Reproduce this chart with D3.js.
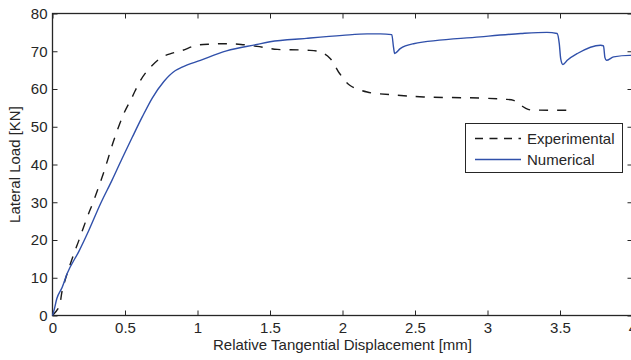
<!DOCTYPE html>
<html>
<head>
<meta charset="utf-8">
<script src="https://cdn.jsdelivr.net/npm/d3@7"></script>
<style>
  html, body { margin: 0; padding: 0; background: #fff; overflow: hidden; }
  svg text { font-family: "Liberation Sans", Arial, Helvetica, sans-serif; fill: #262626; }
</style>
</head>
<body>
<svg id="chart" width="631" height="360"></svg>
<script>
// Experimental load–displacement curve (mm, kN)
const expX = [0, 0.044, 0.067, 0.10, 0.148, 0.182, 0.24, 0.285, 0.354, 0.423, 0.492, 0.55, 0.607, 0.676, 0.757, 0.826, 0.894, 0.996, 1.1, 1.2, 1.3, 1.41, 1.55, 1.75, 1.85, 1.915, 1.98, 2.05, 2.17, 2.33, 2.56, 2.95, 3.11, 3.18, 3.23, 3.28, 3.35, 3.59];
const expY = [0, 2.2, 6.6, 11.0, 16.4, 19.9, 26.1, 30.5, 38.0, 46.4, 53.5, 57.9, 62.3, 65.8, 68.5, 69.5, 70.2, 71.6, 71.9, 72.0, 71.8, 71.3, 70.5, 70.3, 69.8, 68.1, 64.1, 61.0, 59.2, 58.5, 57.9, 57.6, 57.3, 57.0, 55.7, 54.6, 54.4, 54.4];

// Numerical (FE) load–displacement curve (mm, kN)
const numX = [0, 0.01, 0.03, 0.067, 0.101, 0.182, 0.251, 0.331, 0.41, 0.48, 0.55, 0.619, 0.688, 0.768, 0.848, 0.894, 1.02, 1.2, 1.41, 1.5, 1.75, 2.0, 2.17, 2.26, 2.34, 2.352, 2.36, 2.398, 2.49, 2.95, 3.23, 3.41, 3.48, 3.495, 3.505, 3.52, 3.55, 3.62, 3.78, 3.80, 3.81, 3.82, 3.87, 3.98, 4.0];
const numY = [0, 1.3, 4.5, 7.5, 11.1, 17.0, 22.6, 29.6, 35.8, 41.6, 47.2, 52.6, 57.6, 62.0, 64.9, 65.8, 67.6, 70.1, 71.8, 72.5, 73.4, 74.2, 74.6, 74.6, 74.4, 71.0, 69.4, 70.7, 72.0, 73.8, 74.7, 75.0, 74.7, 72.0, 68.0, 66.5, 67.6, 69.4, 71.6, 71.4, 68.3, 67.6, 68.5, 68.9, 68.9];

const seriesNames = ["Experimental", "Numerical"];
const xTicks = [0, 0.5, 1, 1.5, 2, 2.5, 3, 3.5, 4];
const yTicks = [0, 10, 20, 30, 40, 50, 60, 70, 80];

const svg = d3.select("#chart");
const plotL = 52.5, plotR = 632.5, plotT = 13.5, plotB = 315.5;

const x = d3.scaleLinear().domain([0, 4]).range([plotL, plotR]);
const y = d3.scaleLinear().domain([0, 80]).range([plotB, plotT]);

const axisColor = "#262626";
const tickLen = 5;
const fontSize = 15;

// Frame box
svg.append("rect")
  .attr("x", plotL).attr("y", plotT)
  .attr("width", plotR - plotL).attr("height", plotB - plotT)
  .attr("fill", "none").attr("stroke", axisColor).attr("stroke-width", 1.3);

// Bottom and left axes with inward ticks
const xAxis = d3.axisBottom(x).tickValues(xTicks).tickSize(-tickLen).tickPadding(7)
  .tickFormat(d3.format("~g"));
const gx = svg.append("g").attr("transform", `translate(0,${plotB})`).call(xAxis);
const yAxis = d3.axisLeft(y).tickValues(yTicks).tickSize(-tickLen).tickPadding(5);
const gy = svg.append("g").attr("transform", `translate(${plotL},0)`).call(yAxis);

// Mirror ticks on top and right
const gTop = svg.append("g").attr("transform", `translate(0,${plotT})`)
  .call(d3.axisTop(x).tickValues(xTicks).tickSize(-tickLen).tickFormat(""));
const gRight = svg.append("g").attr("transform", `translate(${plotR},0)`)
  .call(d3.axisRight(y).tickValues(yTicks).tickSize(-tickLen).tickFormat(""));

[gx, gy, gTop, gRight].forEach(g => {
  g.select(".domain").remove();
  g.selectAll(".tick line").attr("stroke", axisColor).attr("stroke-width", 1);
  g.selectAll(".tick text").attr("font-size", fontSize).attr("fill", axisColor)
    .style("font-family", '"Liberation Sans", Arial, sans-serif');
});

// Axis titles
svg.append("text")
  .attr("x", x(2)).attr("y", 350)
  .attr("text-anchor", "middle").attr("font-size", fontSize)
  .text("Relative Tangential Displacement [mm]");
svg.append("text")
  .attr("transform", `translate(20,${(plotT + plotB) / 2}) rotate(-90)`)
  .attr("text-anchor", "middle").attr("font-size", fontSize)
  .text("Lateral Load [KN]");

// Curves
const expData = expX.map((v, i) => [v, expY[i]]);
const numData = numX.map((v, i) => [v, numY[i]]);

svg.append("path").datum(expData)
  .attr("d", d3.line().x(d => x(d[0])).y(d => y(d[1])).curve(d3.curveCatmullRom.alpha(0.5)))
  .attr("fill", "none").attr("stroke", "#1a1a1a").attr("stroke-width", 1.4)
  .attr("stroke-dasharray", "9,9");

svg.append("path").datum(numData)
  .attr("d", d3.line().x(d => x(d[0])).y(d => y(d[1])).curve(d3.curveMonotoneX))
  .attr("fill", "none").attr("stroke", "#3050aa").attr("stroke-width", 1.4);

// Legend
const lg = svg.append("g");
lg.append("rect")
  .attr("x", 465.5).attr("y", 123.5).attr("width", 157).attr("height", 49)
  .attr("fill", "#fff").attr("stroke", axisColor).attr("stroke-width", 1);
const legendItems = [
  { name: seriesNames[0], color: "#1a1a1a", dash: "8,6.5", yy: 138.5 },
  { name: seriesNames[1], color: "#3050aa", dash: null, yy: 159.5 }
];
legendItems.forEach(it => {
  lg.append("line")
    .attr("x1", 475).attr("x2", 521).attr("y1", it.yy).attr("y2", it.yy)
    .attr("stroke", it.color).attr("stroke-width", 1.4)
    .attr("stroke-dasharray", it.dash);
  lg.append("text")
    .attr("x", 527).attr("y", it.yy + 5).attr("font-size", fontSize)
    .text(it.name);
});
</script>
</body>
</html>
